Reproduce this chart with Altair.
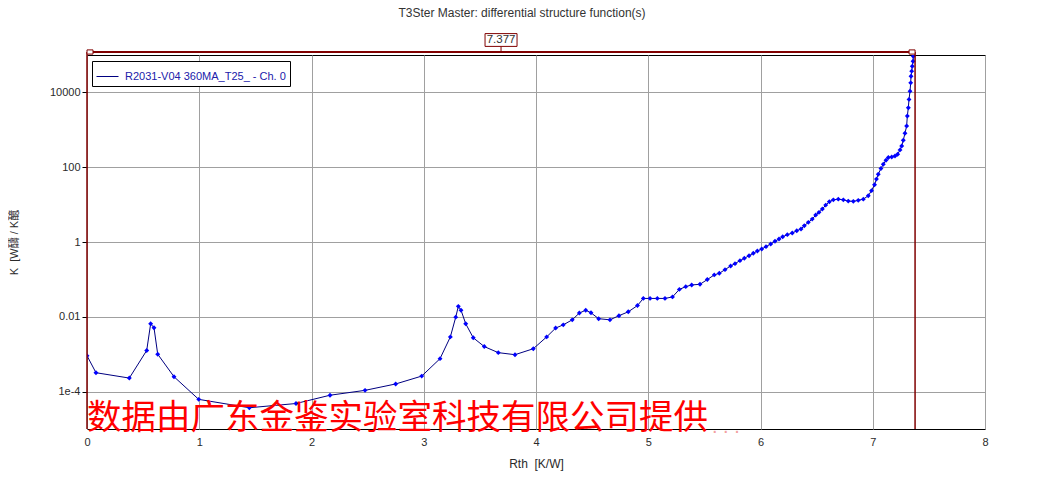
import altair as alt
import pandas as pd

# ---- data ----
rth = [0.00, 0.08, 0.377, 0.532, 0.567, 0.597, 0.630, 0.775, 0.995,
       1.446, 1.862, 2.165, 2.477, 2.750, 2.982, 3.145, 3.237, 3.285, 3.308,
       3.332, 3.374, 3.441, 3.539, 3.664, 3.813, 3.976, 4.095, 4.175, 4.243,
       4.323, 4.386, 4.443, 4.490, 4.558, 4.659, 4.739, 4.822, 4.904, 4.956,
       5.016, 5.081, 5.149, 5.216, 5.277, 5.334, 5.387, 5.461, 5.526, 5.588,
       5.633, 5.684, 5.734, 5.773, 5.817, 5.856, 5.898, 5.936, 5.972, 6.011,
       6.049, 6.091, 6.129, 6.165, 6.198, 6.239, 6.283, 6.323, 6.361, 6.390,
       6.426, 6.461, 6.492, 6.521, 6.551, 6.581, 6.613, 6.649, 6.693, 6.738,
       6.782, 6.827, 6.871, 6.916, 6.960, 6.989, 7.016, 7.033, 7.049, 7.073,
       7.094, 7.118, 7.139, 7.169, 7.198, 7.222, 7.243, 7.258, 7.272, 7.287,
       7.302, 7.308, 7.317, 7.323, 7.332, 7.338, 7.341, 7.347, 7.352, 7.359, 7.361]

k_vals = [9.1e-4, 3.2e-4, 2.3e-4, 1.26e-3, 6.5e-3, 5.1e-3, 1.0e-3, 2.5e-4, 6.2e-5,
          3.7e-5, 4.8e-5, 8.0e-5, 1.08e-4, 1.6e-4, 2.6e-4, 7.6e-4, 2.9e-3, 9.8e-3, 1.9e-2,
          1.5e-2, 6.5e-3, 2.75e-3, 1.6e-3, 1.1e-3, 9.7e-4, 1.4e-3, 2.9e-3, 5.0e-3, 6.1e-3,
          8.3e-3, 1.26e-2, 1.5e-2, 1.28e-2, 8.9e-3, 8.3e-3, 1.07e-2, 1.36e-2, 2.0e-2, 3.1e-2,
          3.1e-2, 3.1e-2, 3.1e-2, 3.4e-2, 5.4e-2, 6.4e-2, 7.1e-2, 7.4e-2, 9.9e-2, 0.132,
          0.146, 0.182, 0.229, 0.264, 0.317, 0.367, 0.43, 0.50, 0.575, 0.65,
          0.75, 0.885, 1.05, 1.2, 1.38, 1.57, 1.74, 2.0, 2.22, 2.72,
          3.35, 4.1, 5.25, 6.2, 7.6, 9.7, 11.9, 13.4, 14.0, 13.4,
          12.4, 12.2, 13.0, 14.0, 17.2, 23.6, 34, 48, 65, 92,
          120, 154, 181, 188, 200, 222, 290, 370, 525, 810,
          1260, 2330, 3900, 6500, 10800, 18000, 27000, 37000, 50000, 68000, 93000]

series_name = "R2031-V04 360MA_T25_ - Ch. 0"
cursor_left = 0.0
cursor_right = 7.377
x_ticks = [0, 1, 2, 3, 4, 5, 6, 7, 8]
y_ticks = [1e-4, 0.01, 1, 100, 10000]
chart_title = "T3Ster Master: differential structure function(s)"
x_title = "Rth\u00a0 [K/W]"
y_title = "K\u00a0 [W醻 / K醷"
watermark = "数据由广东金鉴实验室科技有限公司提供"
watermark_tail = ". . ."

FONT = "Liberation Sans"
TXT = "#2a2a2a"
GRID = "#a0a0a0"
RED = "#800000"

df = pd.DataFrame({"rth": rth, "k": k_vals, "series": series_name})

x_scale = alt.Scale(domain=[0, 8], nice=False, zero=False)
y_scale = alt.Scale(type="log", domain=[1e-5, 1e5], nice=False)

x_axis = alt.Axis(values=x_ticks, grid=True, gridColor=GRID, gridWidth=1,
                  ticks=False, domain=False, labelFont=FONT, labelFontSize=11,
                  labelColor=TXT, labelPadding=7, labelFlush=False, title=x_title,
                  titleFont=FONT, titleFontSize=12, titleFontWeight="normal",
                  titleColor=TXT, titleX=449, titleY=34, titleAlign="center",
                  titleBaseline="middle", format="d")
y_axis = alt.Axis(values=y_ticks, grid=True, gridColor=GRID, gridWidth=1,
                  ticks=True, tickSize=5, tickColor="#000", domain=False,
                  labelFont=FONT, labelFontSize=11, labelColor=TXT, labelPadding=2,
                  labelFlush=False,
                  labelExpr="datum.value < 0.001 ? '1e-4' : toString(datum.value)",
                  title=y_title, titleFont=FONT + ", 'Noto Sans CJK SC'",
                  titleFontSize=11, titleFontWeight="normal", titleColor=TXT,
                  titleX=-73, titleY=187, titleAlign="center", titleBaseline="middle")

base = alt.Chart(df)
line = base.mark_line(strokeWidth=1, clip=True).encode(
    x=alt.X("rth:Q", scale=x_scale, axis=x_axis),
    y=alt.Y("k:Q", scale=y_scale, axis=y_axis),
    color=alt.Color("series:N", scale=alt.Scale(range=["#000080"]),
                    legend=alt.Legend(title=None, orient="none", legendX=5, legendY=6,
                                      symbolType="stroke", symbolSize=484,
                                      symbolStrokeWidth=1, labelFont=FONT,
                                      labelFontSize=11, labelColor="#2020aa",
                                      labelOffset=6, labelLimit=400, strokeColor="#000",
                                      fillColor="white", padding=4)),
)
points = base.mark_point(shape="diamond", filled=True, size=24, color="#0000ff",
                         opacity=1, clip=True).encode(
    x=alt.X("rth:Q", scale=x_scale),
    y=alt.Y("k:Q", scale=y_scale),
)

wm_df = pd.DataFrame({"x": [cursor_left], "t": [watermark], "tail": [watermark_tail]})
wm = alt.Chart(wm_df).mark_text(align="left", baseline="middle", fontSize=34.5,
                                font="Noto Sans CJK SC", color="#ff0000").encode(
    x=alt.X("x:Q", scale=x_scale), y=alt.value(364), text="t:N")
wm_tail = alt.Chart(wm_df).mark_text(align="left", baseline="middle", fontSize=20,
                                     font=FONT, color="#f3a0a0", dx=625, dy=8).encode(
    x=alt.X("x:Q", scale=x_scale), y=alt.value(364), text="tail:N")

cur_df = pd.DataFrame({"x0": [cursor_left], "x1": [cursor_right],
                       "mid": [(cursor_left + cursor_right) / 2],
                       "label": [f"{cursor_right:.3f}"]})
vr_df = pd.DataFrame({"x": [cursor_left, cursor_right]})

h_rule = alt.Chart(cur_df).mark_rule(color=RED, strokeWidth=2, clip=False).encode(
    x=alt.X("x0:Q", scale=x_scale), x2="x1:Q", y=alt.value(-3))
v_rules = alt.Chart(vr_df).mark_rule(color=RED, strokeWidth=1.5, clip=False).encode(
    x=alt.X("x:Q", scale=x_scale), y=alt.value(-3), y2=alt.value(374))
left_sq = alt.Chart(cur_df).mark_point(shape="M0,-0.7H2V0.7H0Z", size=36, filled=True,
                                       fill="white", stroke=RED, strokeWidth=1,
                                       opacity=1, clip=False).encode(
    x=alt.X("x0:Q", scale=x_scale), y=alt.value(-3))
right_sq = alt.Chart(cur_df).mark_point(shape="M-2,-0.7H0V0.7H-2Z", size=36, filled=True,
                                        fill="white", stroke=RED, strokeWidth=1,
                                        opacity=1, clip=False).encode(
    x=alt.X("x1:Q", scale=x_scale), y=alt.value(-3))
lbl_tick = alt.Chart(cur_df).mark_rule(color=RED, strokeWidth=1, clip=False).encode(
    x=alt.X("mid:Q", scale=x_scale), y=alt.value(-9), y2=alt.value(-3))
lbl_box = alt.Chart(cur_df).mark_point(shape="M-1,-0.4H1V0.4H-1Z", size=1024, filled=True,
                                       fill="white", stroke=RED, strokeWidth=1,
                                       opacity=1, clip=False).encode(
    x=alt.X("mid:Q", scale=x_scale), y=alt.value(-15))
lbl_text = alt.Chart(cur_df).mark_text(font=FONT, fontSize=11.5, color="#333",
                                       baseline="middle", align="center").encode(
    x=alt.X("mid:Q", scale=x_scale), y=alt.value(-15), text="label:N")

chart = alt.layer(line, points, wm, wm_tail, h_rule, v_rules, left_sq, right_sq,
                  lbl_tick, lbl_box, lbl_text).properties(
    width=898, height=374,
    autosize=alt.AutoSizeParams(type="none"),
    padding={"left": 79, "top": 47, "right": 58, "bottom": 60},
    background="white",
    title=alt.TitleParams(chart_title, font=FONT, fontSize=12, fontWeight="normal",
                          color="#333", anchor="middle", frame="group", offset=12, dx=-14),
).configure_view(stroke="#000", strokeWidth=1)

chart.save("out.html", embed_options={"renderer": "svg", "actions": False})
